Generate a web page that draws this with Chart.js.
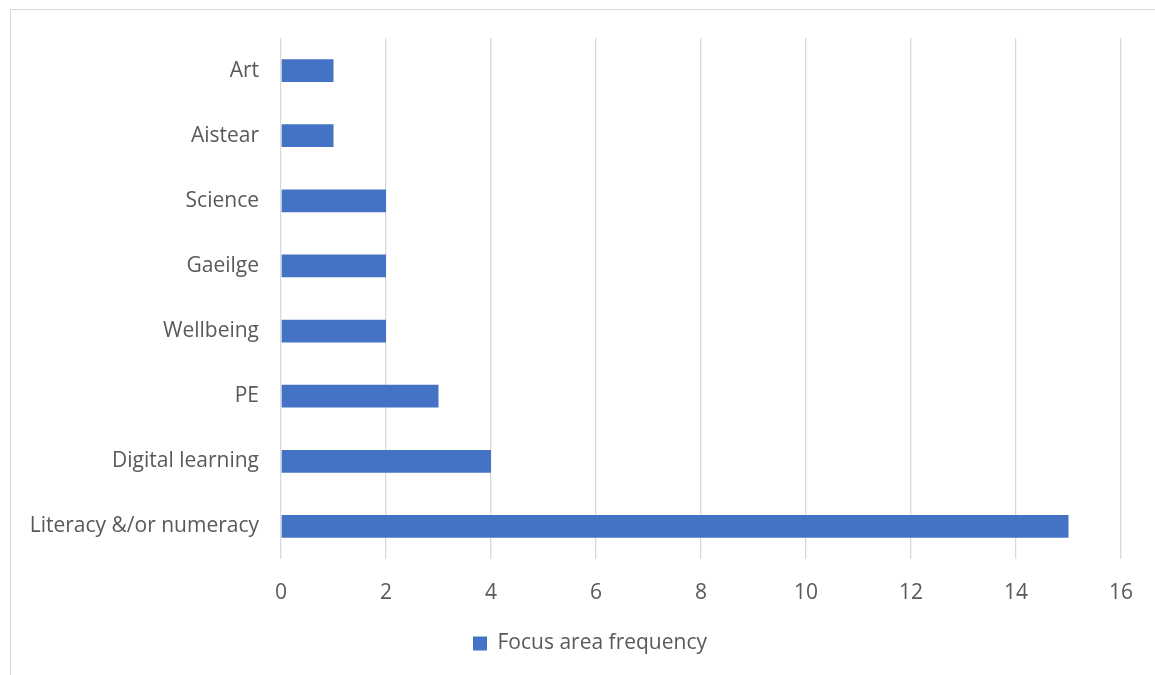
<!DOCTYPE html>
<html>
<head>
<meta charset="utf-8">
<script src="https://cdn.jsdelivr.net/npm/chart.js@4/dist/chart.umd.min.js"></script>
<style>
  html, body { margin: 0; padding: 0; background: #fff; }
  #frame {
    position: absolute; left: 10px; top: 9px;
    width: 1145px; height: 666px;
    border-left: 1px solid #d9d9d9; border-top: 1px solid #d9d9d9;
  }
  #chart { display: block; }
</style>
</head>
<body>
<div id="frame"><canvas id="chart" width="1144" height="665"></canvas></div>
<script>
// categories top to bottom
const categories = ['Art', 'Aistear', 'Science', 'Gaeilge', 'Wellbeing', 'PE', 'Digital learning', 'Literacy &/or numeracy'];
const frequency = [1, 1, 2, 2, 2, 3, 4, 15];
const xTicks = [0, 2, 4, 6, 8, 10, 12, 14, 16];
const seriesName = 'Focus area frequency';

const textColor = '#595959';
const fontFamily = '"Open Sans", Lato, sans-serif';

// nudge the legend a bit right, like the original
const legendShift = {
    id: 'legendShift',
    afterLayout(chart) {
        if (chart.legend) {
            chart.legend.left += 24;
            chart.legend.right += 24;
        }
    }
};

const ctx = document.getElementById('chart').getContext('2d');
new Chart(ctx, {
    type: 'bar',
    data: {
        labels: categories,
        datasets: [{
            label: seriesName,
            data: frequency,
            backgroundColor: '#4472c4',
            borderWidth: 0,
            categoryPercentage: 1,
            barPercentage: 0.35
        }]
    },
    options: {
        indexAxis: 'y',
        responsive: false,
        animation: false,
        layout: { padding: { top: 28, right: 34, left: 0, bottom: 11 } },
        scales: {
            x: {
                min: 0,
                max: 16,
                afterBuildTicks: (scale) => { scale.ticks = xTicks.map(v => ({ value: v })); },
                grid: { color: '#d9d9d9', lineWidth: 1.3, drawTicks: false },
                border: { display: false },
                ticks: { color: textColor, font: { family: fontFamily, size: 21 }, padding: 21 },
                afterFit: (scale) => { scale.height = 64; scale.paddingLeft = 0; scale.paddingRight = 0; }
            },
            y: {
                grid: { display: false, drawTicks: false },
                border: { display: false },
                ticks: { color: textColor, font: { family: fontFamily, size: 21 }, padding: 22 },
                afterFit: (scale) => { scale.width = 270; scale.paddingTop = 0; scale.paddingBottom = 0; }
            }
        },
        plugins: {
            legend: {
                position: 'bottom',
                labels: {
                    color: textColor,
                    font: { family: fontFamily, size: 21 },
                    boxWidth: 14,
                    boxHeight: 14,
                    padding: 10
                }
            },
            tooltip: { enabled: false }
        }
    },
    plugins: [legendShift]
});
</script>
</body>
</html>
